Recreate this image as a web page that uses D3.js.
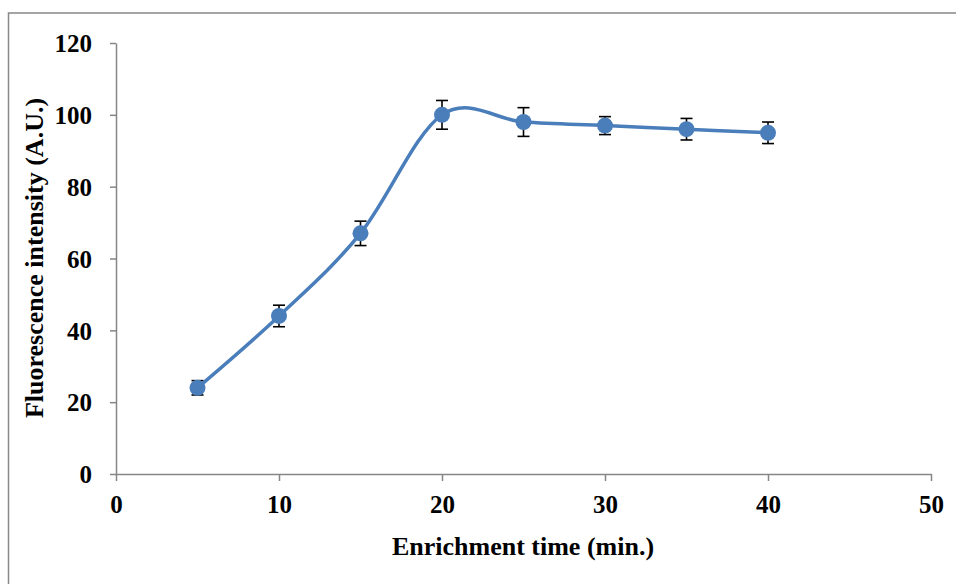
<!DOCTYPE html>
<html><head><meta charset="utf-8">
<script src="https://cdn.jsdelivr.net/npm/d3@7"></script>
<style>body{margin:0;background:#fff;}svg{display:block;}</style>
</head><body><svg id="c" width="956" height="584"></svg>
<script>
const times = [5, 10, 15, 20, 25, 30, 35, 40];
const intensity = [24, 44, 67, 100, 98, 97, 96, 95];
const errors = [2, 3, 3.4, 4, 4, 2.5, 3, 3];
const xTicks = [0, 10, 20, 30, 40, 50];
const yTicks = [0, 20, 40, 60, 80, 100, 120];

const svg = d3.select("#c");
const font = "'Liberation Serif','Times New Roman',serif";
svg.append("rect").attr("x", 8.5).attr("y", 13).attr("width", 960).attr("height", 600)
  .attr("fill", "#fff").attr("stroke", "#888").attr("stroke-width", 1.5);

const x = d3.scaleLinear().domain([0, 50]).range([116, 931]);
const y = d3.scaleLinear().domain([0, 120]).range([474, 43]);

const gx = svg.append("g").attr("transform", "translate(0,474)")
  .call(d3.axisBottom(x).tickValues(xTicks).tickSizeInner(7).tickSizeOuter(0).tickPadding(14));
const gy = svg.append("g").attr("transform", "translate(116,0)")
  .call(d3.axisLeft(y).tickValues(yTicks).tickSizeInner(6).tickSizeOuter(0).tickPadding(18));
[gx, gy].forEach(g => {
  g.selectAll("path,line").attr("stroke", "#868686").attr("stroke-width", 1.5);
  g.selectAll("text").attr("font-family", font).attr("font-weight", "bold")
    .attr("font-size", 25).attr("fill", "#000");
});
gy.selectAll("text").attr("dy", "0.35em");

const data = times.map((t, i) => ({t, v: intensity[i], e: errors[i]}));

const eb = svg.append("g").attr("stroke", "#000").attr("stroke-width", 1.6);
data.forEach(d => {
  const cx = x(d.t), y1 = y(d.v + d.e), y2 = y(d.v - d.e);
  eb.append("line").attr("x1", cx).attr("x2", cx).attr("y1", y1).attr("y2", y2);
  eb.append("line").attr("x1", cx - 6).attr("x2", cx + 6).attr("y1", y1).attr("y2", y1);
  eb.append("line").attr("x1", cx - 6).attr("x2", cx + 6).attr("y1", y2).attr("y2", y2);
});

svg.append("path").datum(data)
  .attr("d", d3.line().x(d => x(d.t)).y(d => y(d.v)).curve(d3.curveCardinal.tension(0)))
  .attr("fill", "none").attr("stroke", "#4a7ebb").attr("stroke-width", 3.5);

svg.append("g").selectAll("circle").data(data).join("circle")
  .attr("cx", d => x(d.t)).attr("cy", d => y(d.v)).attr("r", 8).attr("fill", "#4a7ebb");

svg.append("text").attr("x", 523).attr("y", 555).attr("text-anchor", "middle")
  .attr("font-family", font).attr("font-weight", "bold").attr("font-size", 26)
  .text("Enrichment time (min.)");
svg.append("text").attr("transform", "translate(43,258) rotate(-90)").attr("text-anchor", "middle")
  .attr("font-family", font).attr("font-weight", "bold").attr("font-size", 26)
  .text("Fluorescence intensity (A.U.)");
</script></body></html>
